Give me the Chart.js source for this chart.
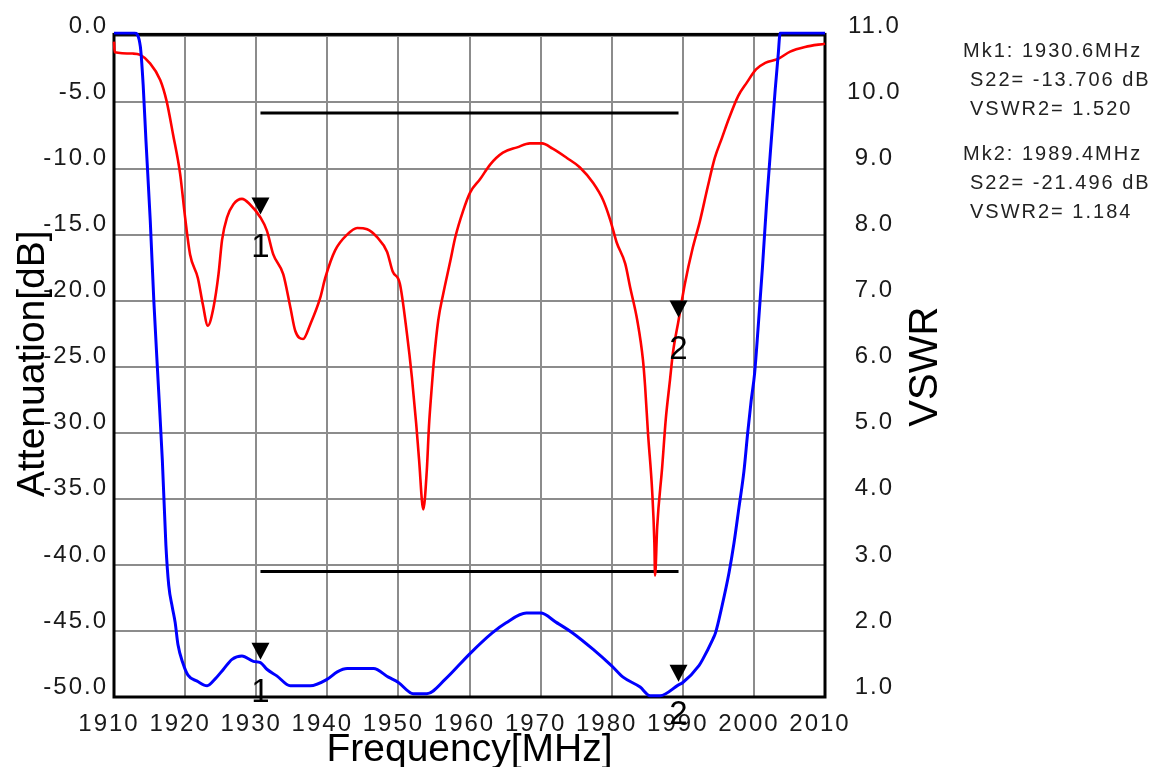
<!DOCTYPE html>
<html>
<head>
<meta charset="utf-8">
<script src="https://cdn.jsdelivr.net/npm/chart.js@4.4.0/dist/chart.umd.min.js"></script>
<style>
html,body{margin:0;background:#fff}
#wrap{width:1161px;height:767px}
</style>
</head>
<body>
<div id="wrap"><canvas id="chart"></canvas></div>
<script>
// S22 return loss (left axis, dB)
const freqS22=[1910.0,1910.1,1912.7,1913.7,1915.0,1916.5,1917.4,1918.3,1919.3,1920.0,1920.7,1921.8,1922.5,1923.2,1924.0,1924.7,1925.2,1925.9,1926.8,1928.0,1929.1,1930.6,1931.5,1932.4,1933.8,1934.8,1935.5,1936.6,1937.6,1939.0,1939.7,1941.1,1942.8,1944.2,1945.6,1947.0,1948.4,1949.2,1950.2,1951.2,1951.9,1952.5,1952.9,1953.5,1954.0,1954.3,1954.7,1955.0,1955.6,1956.3,1957.3,1958.0,1959.1,1960.1,1961.5,1962.9,1964.7,1966.7,1968.5,1970.2,1971.7,1973.7,1975.5,1977.4,1978.8,1979.8,1980.7,1981.9,1982.6,1983.6,1984.4,1984.7,1985.1,1985.7,1986.0,1986.1,1986.4,1987.1,1987.6,1988.2,1988.6,1989.4,1990.3,1991.4,1992.4,1993.5,1994.5,1995.5,1996.5,1997.8,1999.0,2000.3,2001.6,2003.4,2005.1,2007.2,2010.0];
const s22=[-0.4,-1.2,-1.3,-1.4,-2.0,-3.3,-4.9,-7.4,-10.4,-13.7,-16.5,-18.3,-20.3,-21.9,-20.5,-18.0,-15.4,-13.7,-12.7,-12.3,-12.7,-13.706,-14.7,-16.5,-18.0,-20.5,-22.3,-22.9,-21.8,-19.8,-18.3,-16.2,-15.0,-14.5,-14.6,-15.2,-16.3,-17.8,-18.7,-22.5,-25.8,-29.3,-32.0,-35.8,-32.8,-29.5,-26.5,-24.5,-21.5,-19.5,-17.0,-15.2,-13.2,-11.8,-10.8,-9.7,-8.8,-8.4,-8.1,-8.1,-8.5,-9.2,-9.9,-11.1,-12.4,-13.9,-15.6,-17.2,-19.0,-21.5,-24.5,-26.5,-30.0,-34.5,-38.3,-40.8,-37.1,-32.6,-29.0,-26.0,-24.0,-21.496,-18.7,-16.0,-14.0,-11.4,-9.2,-7.7,-6.2,-4.5,-3.5,-2.5,-2.0,-1.7,-1.15,-0.8,-0.55];

// VSWR (right axis), runs off the top of the plot at both ends
const freqVswr=[1910.0,1912.9,1913.7,1914.1,1914.5,1915.1,1915.6,1916.2,1916.8,1917.3,1917.7,1918.2,1918.6,1919.0,1919.7,1920.4,1921.7,1923.1,1924.2,1925.4,1926.6,1928.0,1929.6,1930.6,1931.5,1932.9,1934.8,1936.2,1937.6,1940.0,1941.4,1942.8,1946.5,1948.6,1950.0,1952.1,1954.0,1956.6,1960.0,1963.2,1965.1,1968.0,1970.0,1972.2,1974.5,1977.4,1980.0,1981.6,1984.0,1985.4,1986.8,1989.4,1990.0,1992.3,1992.8,1994.2,1994.6,1995.5,1996.5,1997.2,1997.9,1998.6,1999.1,1999.6,2000.1,2000.6,2001.2,2001.8,2002.5,2003.0,2003.4,2003.7,2010.0];
const vswr=[11.05,11.05,10.85,10.27,9.41,8.21,7.0,5.79,4.58,3.30,2.69,2.36,2.13,1.79,1.51,1.33,1.24,1.17,1.27,1.42,1.57,1.62,1.54,1.52,1.42,1.32,1.17,1.17,1.17,1.27,1.38,1.43,1.43,1.30,1.22,1.05,1.05,1.27,1.65,1.97,2.12,2.27,2.27,2.13,1.97,1.72,1.47,1.30,1.15,1.02,1.02,1.184,1.22,1.48,1.57,1.87,1.97,2.37,2.88,3.33,3.87,4.42,4.97,5.47,5.9,6.6,7.5,8.5,9.5,10.2,10.7,11.05,11.05];

// spec limit lines (dB)
const specFreq=[1930.6,1989.4];
const specUpper=[-5.8,-5.8];
const specLower=[-40.5,-40.5];

// markers
const markerFreq=[1930.6,1989.4];
const markerS22=[-13.706,-21.496];
const markerVswr=[1.520,1.184];

// tick labels
const freqTicks=[1910,1920,1930,1940,1950,1960,1970,1980,1990,2000,2010];
const dbTicks=[0,-5,-10,-15,-20,-25,-30,-35,-40,-45,-50];
const vswrTicks=[1,2,3,4,5,6,7,8,9,10,11];

const FONT='"Liberation Sans", Arial, sans-serif';

function pts(xs,ys){return xs.map((x,i)=>({x:x,y:ys[i]}));}

const deco={
  id:'deco',
  beforeLayout(c){c.ctx.letterSpacing='2px';},
  beforeDraw(c){c.ctx.letterSpacing='2px';},
  beforeDatasetsDraw(c){
    const a=c.chartArea, ctx=c.ctx;
    ctx.save();
    ctx.strokeStyle='#000';
    ctx.lineWidth=3;
    ctx.strokeRect(a.left,a.top-2,a.right-a.left,a.bottom-a.top+2);
    ctx.restore();
  },
  afterDraw(c){
    const ctx=c.ctx, sx=c.scales.x, sy=c.scales.y, sy2=c.scales.y2;
    ctx.save();
    ctx.letterSpacing='0px';
    ctx.fillStyle='#000';
    // markers
    function tri(px,py,n){
      ctx.beginPath();
      ctx.moveTo(px-9,py-20);
      ctx.lineTo(px+9,py-20);
      ctx.lineTo(px,py-3);
      ctx.closePath();
      ctx.fill();
      ctx.font='33px '+FONT;
      ctx.textAlign='center';
      ctx.textBaseline='middle';
      ctx.fillText(String(n),px,py+30);
    }
    markerFreq.forEach((f,i)=>{
      tri(sx.getPixelForValue(f),sy.getPixelForValue(markerS22[i]),i+1);
      tri(sx.getPixelForValue(f),sy2.getPixelForValue(markerVswr[i]),i+1);
    });
    // axis titles
    ctx.textBaseline='alphabetic';
    ctx.textAlign='center';
    ctx.font='39px '+FONT;
    ctx.fillText('Frequency[MHz]',(c.chartArea.left+c.chartArea.right)/2,761);
    const midY=(c.chartArea.top+c.chartArea.bottom)/2;
    ctx.save();
    ctx.translate(44,midY-3);
    ctx.rotate(-Math.PI/2);
    ctx.fillText('Attenuation[dB]',0,0);
    ctx.restore();
    ctx.font='40px '+FONT;
    ctx.save();
    ctx.translate(937,midY);
    ctx.rotate(-Math.PI/2);
    ctx.fillText('VSWR',0,0);
    ctx.restore();
    // marker readout
    ctx.letterSpacing='2px';
    ctx.font='20px '+FONT;
    ctx.fillStyle='#222';
    ctx.textAlign='left';
    markerFreq.forEach((f,i)=>{
      const y0=57+i*103;
      ctx.fillText('Mk'+(i+1)+': '+f.toFixed(1)+'MHz',963,y0);
      ctx.fillText('S22= '+markerS22[i].toFixed(3)+' dB',970,y0+29);
      ctx.fillText('VSWR2= '+markerVswr[i].toFixed(3),970,y0+58);
    });
    ctx.restore();
  }
};

new Chart(document.getElementById('chart'),{
  type:'line',
  data:{
    datasets:[
      {label:'VSWR',data:pts(freqVswr,vswr),yAxisID:'y2',borderColor:'#0000ff',borderWidth:3,pointRadius:0,cubicInterpolationMode:'monotone',clip:5},
      {label:'S22',data:pts(freqS22,s22),yAxisID:'y',borderColor:'#ff0000',borderWidth:2.6,pointRadius:0,cubicInterpolationMode:'monotone',clip:5},
      {label:'upper',data:pts(specFreq,specUpper),yAxisID:'y',borderColor:'#000',borderWidth:3,pointRadius:0},
      {label:'lower',data:pts(specFreq,specLower),yAxisID:'y',borderColor:'#000',borderWidth:3,pointRadius:0}
    ]
  },
  options:{
    responsive:true,
    maintainAspectRatio:false,
    animation:false,
    events:[],
    layout:{padding:{top:33.6,left:0,right:0,bottom:0}},
    plugins:{legend:{display:false},tooltip:{enabled:false}},
    scales:{
      x:{
        type:'linear',min:1910,max:2010,
        afterBuildTicks:s=>{s.ticks=freqTicks.map(v=>({value:v}));},
        afterFit:s=>{s.height=70;},
        grid:{color:'#8c8c8c',lineWidth:2,drawTicks:false},
        border:{display:false},
        ticks:{color:'#1a1a1a',font:{family:FONT,size:24},padding:13,labelOffset:-5,autoSkip:false,minRotation:0,maxRotation:0,callback:v=>String(v)}
      },
      y:{
        type:'linear',position:'left',min:-50,max:0,
        afterBuildTicks:s=>{s.ticks=dbTicks.map(v=>({value:v}));},
        afterFit:s=>{s.width=114;},
        grid:{color:'#8c8c8c',lineWidth:2,drawTicks:false},
        border:{display:false},
        ticks:{color:'#1a1a1a',font:{family:FONT,size:24},padding:6,labelOffset:-10,callback:v=>Number(v).toFixed(1)}
      },
      y2:{
        type:'linear',position:'right',min:1,max:11,
        afterBuildTicks:s=>{s.ticks=vswrTicks.map(v=>({value:v}));},
        afterFit:s=>{s.width=336;},
        grid:{display:false,drawTicks:false},
        border:{display:false},
        ticks:{color:'#1a1a1a',font:{family:FONT,size:24},padding:22,crossAlign:'center',labelOffset:-10,callback:v=>Number(v).toFixed(1)}
      }
    }
  },
  plugins:[deco]
});
</script>
</body>
</html>
